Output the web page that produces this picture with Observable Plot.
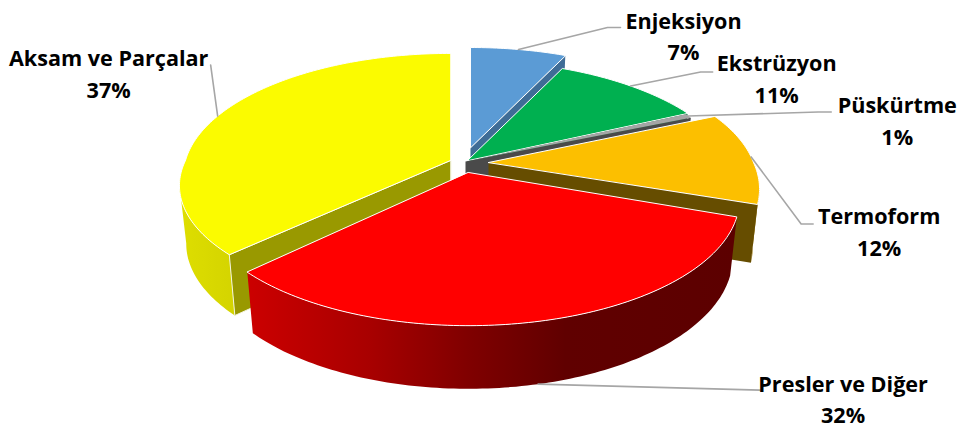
<!DOCTYPE html>
<html><head><meta charset="utf-8">
<script src="https://cdn.jsdelivr.net/npm/d3@7"></script>
<script src="https://cdn.jsdelivr.net/npm/@observablehq/plot@0.6"></script>
<style>html,body{margin:0;padding:0;background:#fff}svg{display:block}</style>
</head><body><div id="chart"></div>
<script>
// data: shares; the labels show them rounded
const categories = ["Enjeksiyon","Ekstrüzyon","Püskürtme","Termoform","Presler ve Diğer","Aksam ve Parçalar"];
const shares = [7,11,0.6,11.6,32.4,37.4];
// styles
const topColors = ["#5b9bd5","#00b050","#a5a5a5","#fcbf00","#ff0000","#fbfb00"];
const faceColors = ["#3f6c96","#006f32","#4a4a4a","#664d00","none","#999900"];
// geometry of the projected disc
const cx = 465, cy = 161, R = 265, r = 121, k = 0.21, sink = 57, bottomX = 0.975, bottomY = 1.04;
// how far each slice is pulled out of the pie, and its perspective tweaks
const pullX = [5,2,0,23,3,-15], pullY = [-14,-1,0,1,11,-1];
const rearK = [0.21,0.21,0.21,0.17,0.21,0.13];
const frontY = [1,1,1,1,1,0.945];
const startTweak = [0,0,0,-1,1.2,0];
// label layout, relative to each slice's outer-edge midpoint
const elbowDx = [89,70,130,50,222,-7], elbowDy = [-22,-14,-4,67,6,-51];
const endDx = [102,82,143,62,222,-7], endDy = [-22,-14,-4,67,6,-51];
const textDx = [165,146,209,128,305,-109], textDy = [-15,-9,3,73,13,-44];

const rad = d => d * Math.PI / 180;
let acc = 0;
const slices = categories.map((name,i) => {
  const a0 = acc * 3.6 + startTweak[i]; acc += shares[i]; const a1 = acc * 3.6; const mid = (a0+a1)/2;
  return {name, i, share: Math.round(shares[i]), a0, a1, mid, ax: cx + pullX[i], ay: cy + pullY[i]};
});
function topAt(s,t){
  const X = Math.sin(rad(t)), Y = -Math.cos(rad(t)), f = 1/(1-(Y<0?rearK[s.i]:k)*Y);
  return {x: s.ax + R*X*f, y: s.ay + r*Y*f*(Y>0?frontY[s.i]:1)};
}
function bottomAt(s,t){
  const p = topAt(s,t);
  return {x: s.ax + (p.x-s.ax)*bottomX, y: s.ay + sink + (p.y-s.ay)*bottomY};
}
const arc = (s,a,b,fn) => { const n = Math.max(2,Math.ceil(Math.abs(b-a))); return d3.range(n+1).map(j => fn(s,a+(b-a)*j/n)); };
const topPoly = s => [{x:s.ax,y:s.ay},...arc(s,s.a0,s.a1,topAt)];
const facePoly = (s,t) => [{x:s.ax,y:s.ay},topAt(s,t),bottomAt(s,t),{x:s.ax,y:s.ay+sink}];
const wallPoly = (s,a,b) => [...arc(s,a,b,topAt),...arc(s,b,a,bottomAt)];

const poly = (rows,fill,stroke,sw) => Plot.line(rows,{x:"x",y:"y",curve:"linear-closed",fill,stroke:stroke||"none",strokeWidth:sw||0});

const defs = () => {
  const d = d3.create("svg:defs");
  const g = (id,stops) => { const lg = d.append("linearGradient").attr("id",id);
    stops.forEach(([o,c]) => lg.append("stop").attr("offset",o).attr("stop-color",c)); };
  g("redWall",[[0,"#cc0000"],[0.25,"#a80000"],[0.45,"#800000"],[0.65,"#600000"],[1,"#5c0000"]]);
  g("yellowWall",[[0,"#dede00"],[1,"#d4d400"]]);
  return d.node();
};

const marks = [defs];
for (const i of [0,1,2,3,5,4]) {
  const s = slices[i];
  if (i === 3) marks.push(poly(wallPoly(s,100,s.a1),"#a07800"));
  if (i === 4) marks.push(poly(wallPoly(s,s.a0,s.a1),"url(#redWall)"));
  if (i === 5) marks.push(poly(wallPoly(s,s.a0,258),"url(#yellowWall)"));
  if (i === 5) marks.push(poly(facePoly(s,s.a0),faceColors[i],"#f4f4e0",1));
  else if (i !== 4) marks.push(poly(facePoly(s,s.a1),faceColors[i]));
  marks.push(poly(topPoly(s),topColors[i],i===2?"none":"#ffffff",i===2?0:1));
}
// leader lines and labels anchored to each slice's arc midpoint
const anchors = slices.map(s => s.i === 4 ? bottomAt(s,s.mid) : topAt(s,s.mid));
slices.forEach((s,i) => {
  const a = anchors[i];
  marks.push(Plot.line([a,{x:a.x+elbowDx[i],y:a.y+elbowDy[i]},{x:a.x+endDx[i],y:a.y+endDy[i]}],
    {x:"x",y:"y",stroke:"#a6a6a6",strokeWidth:1.6}));
});
marks.push(Plot.text(slices,{
  x:(s,i)=>anchors[i].x+textDx[i], y:(s,i)=>anchors[i].y+textDy[i],
  text:s=>`${s.name}\n${s.share}%`, fontFamily:"Open Sans", fontWeight:700, fontSize:21.6, lineHeight:1.45, fill:"#000"
}));

document.getElementById("chart").append(Plot.plot({
  width:961,height:428,margin:0,
  x:{domain:[0,961],range:[0,961],axis:null},
  y:{domain:[0,428],range:[0,428],axis:null},
  marks
}));
</script></body></html>
